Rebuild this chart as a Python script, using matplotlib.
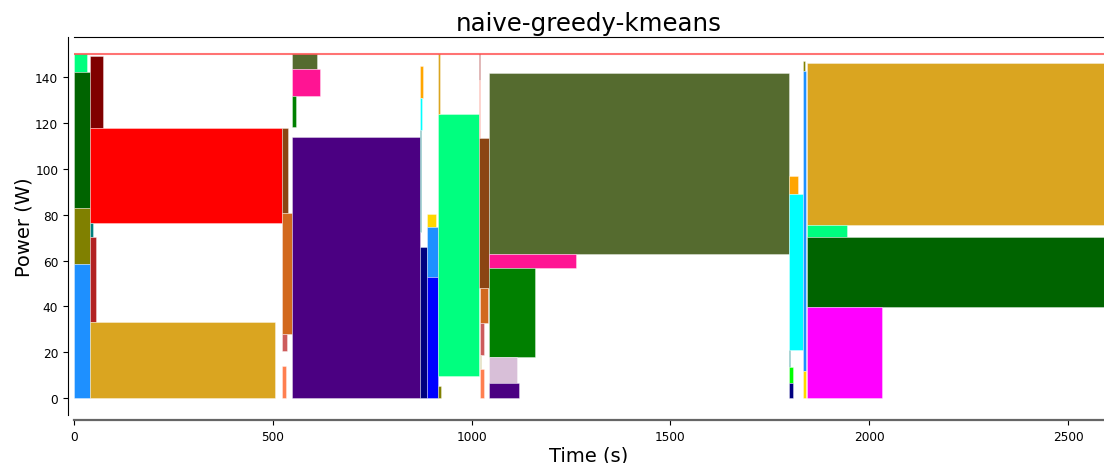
import matplotlib
matplotlib.use("Agg")
import matplotlib.pyplot as plt

# Job rectangles: start time (s), end time (s), power bottom (W), power top (W), colour
starts = [0, 0, 0, 0, 40.5, 40.5, 40.5, 40.5, 40.5,
          522.6, 522.6, 522.6, 522.6,
          549.3, 549.3, 549.3, 549.3,
          870.4, 870.4, 870.4, 870.4,
          887.2, 887.2, 887.2,
          916.5, 916.5, 916.5,
          1019, 1019, 1019.6, 1021, 1021, 1021, 1021,
          1044, 1044, 1044, 1044, 1044,
          1797, 1797, 1797, 1797, 1797,
          1832, 1832, 1832,
          1842, 1842, 1842, 1842]
ends = [32, 40.5, 40.5, 40.5, 74, 522.6, 47, 56.3, 506,
        539, 549.3, 535, 532.6,
        610.6, 619.7, 557.7, 870.4,
        878.8, 874.6, 873, 887.2,
        909.9, 916.5, 916.5,
        1019.6, 920.7, 922.4,
        1022, 1022, 1044, 1041, 1030, 1024, 1030,
        1797, 1263, 1160, 1114, 1119,
        1821, 1832, 1801, 1807, 1809,
        1838, 1840, 1841,
        2590, 1944, 2590, 2032]
lows = [142.2, 82.8, 58.5, 0, 117.9, 76.5, 70.4, 33.3, 0,
        80.6, 27.9, 20.6, 0,
        143.6, 132, 118.4, 0,
        131, 117.1, 72.6, 0,
        74.8, 52.7, 0,
        9.7, 124, 0,
        139, 113.5, 47.9, 32.6, 18.9, 12.7, 0,
        62.7, 56.9, 17.8, 6.5, 0,
        89, 21.1, 13.7, 6.5, 0,
        142.6, 11.7, 0,
        75.7, 70.4, 39.9, 0]
highs = [150, 142.2, 82.8, 58.5, 149.2, 117.9, 76.5, 70.4, 33.3,
         117.7, 80.6, 27.9, 14.1,
         150, 143.6, 132, 113.8,
         145.1, 131, 117.1, 66.1,
         80.3, 74.8, 52.7,
         124, 150, 5.1,
         150, 139, 113.5, 47.9, 32.6, 18.9, 12.7,
         141.7, 62.7, 56.9, 17.8, 6.5,
         97, 89, 21.1, 13.7, 6.5,
         147.3, 142.6, 11.7,
         146.2, 75.7, 70.4, 39.9]
colors = ["springgreen", "darkgreen", "olive", "dodgerblue", "maroon", "red", "teal", "firebrick", "goldenrod",
          "saddlebrown", "chocolate", "indianred", "coral",
          "darkolivegreen", "deeppink", "green", "indigo",
          "orange", "cyan", "teal", "navy",
          "gold", "dodgerblue", "blue",
          "springgreen", "goldenrod", "olive",
          "brown", "salmon", "saddlebrown", "chocolate", "indianred", "darkkhaki", "coral",
          "darkolivegreen", "deeppink", "green", "thistle", "indigo",
          "orange", "cyan", "teal", "lime", "navy",
          "olive", "dodgerblue", "gold",
          "goldenrod", "springgreen", "darkgreen", "magenta"]
power_cap = 150
x_max = 2590
x_ticks = [0, 500, 1000, 1500, 2000, 2500]
y_ticks = [0, 20, 40, 60, 80, 100, 120, 140]

durations = [e - s for s, e in zip(starts, ends)]
heights = [h - l for l, h in zip(lows, highs)]

fig = plt.figure(figsize=(11.04, 4.64), dpi=100)
ax = fig.add_axes([73.9 / 1104, (464 - 416.2) / 464, (1104 - 73.9) / 1104, (416.2 - 38.2) / 464])

ax.bar(starts, heights, width=durations, bottom=lows, align="edge",
       color=colors, edgecolor=(1, 1, 1, 0.5), linewidth=0.5)
ax.axhline(power_cap, color="red", alpha=0.55, linewidth=1.5)

ax.set_xlim(0, x_max)
ax.set_ylim(-7.5, 157.5)
ax.set_xticks(x_ticks)
ax.set_yticks(y_ticks)
ax.tick_params(labelsize=8.7)

ax.spines["right"].set_visible(False)
ax.spines["left"].set_position(("outward", 4.3))
ax.spines["bottom"].set_position(("outward", 3.6))
ax.spines["bottom"].set_color("#666666")
ax.spines["bottom"].set_linewidth(1.6)

ax.set_title("naive-greedy-kmeans", fontsize=17.6, pad=5)
ax.set_xlabel("Time (s)", fontsize=14, labelpad=2)
ax.set_ylabel("Power (W)", fontsize=14, labelpad=1)

fig.savefig("out.png", dpi=100)
